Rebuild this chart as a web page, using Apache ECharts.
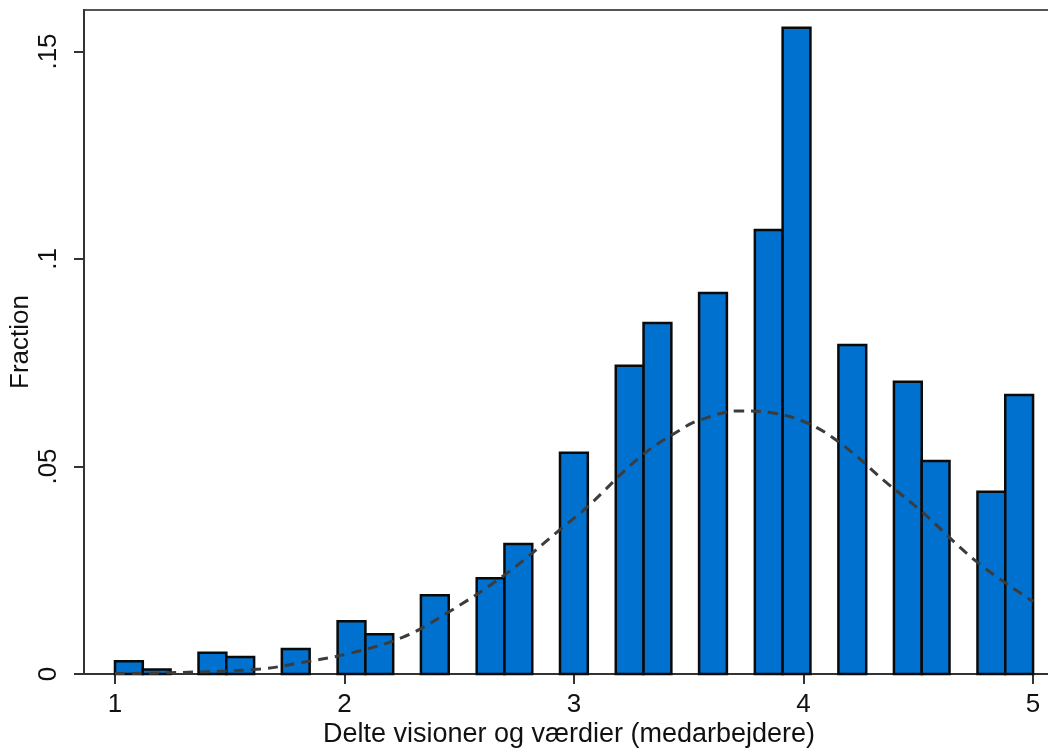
<!DOCTYPE html>
<html>
<head>
<meta charset="utf-8">
<script src="https://cdn.jsdelivr.net/npm/echarts@6/dist/echarts.min.js"></script>
<style>
html,body{margin:0;padding:0;background:#fff;}
#chart{width:1048px;height:749px;}
</style>
</head>
<body>
<div id="chart"></div>
<script>
// Histogram bins (left edge of each non-empty bin) and fraction heights
const binWidth = 0.1212;
const binStarts = [1.000, 1.121, 1.364, 1.485, 1.727, 1.970, 2.091, 2.333, 2.576, 2.697, 2.939,
                   3.182, 3.303, 3.545, 3.788, 3.909, 4.152, 4.394, 4.515, 4.758, 4.879];
const fractions = [0.0031, 0.0011, 0.0051, 0.0041, 0.0060, 0.0127, 0.0096, 0.0190, 0.0231, 0.0313, 0.0533,
                   0.0743, 0.0846, 0.0918, 0.1070, 0.1557, 0.0793, 0.0704, 0.0513, 0.0439, 0.0672];

// Normal density overlay
const curveX = [1.00, 1.24, 1.632, 1.806, 2.024, 2.255, 2.447, 2.708, 2.952, 3.057, 3.288, 3.462, 3.549,
                3.723, 3.867, 4.015, 4.159, 4.364, 4.508, 4.756, 5.00];
const curveY = [0.0001, 0.0003, 0.0012, 0.0027, 0.0050, 0.0089, 0.0147, 0.0243, 0.0354, 0.0402, 0.0523, 0.0588, 0.0612,
                0.0634, 0.0629, 0.0605, 0.0557, 0.0460, 0.0395, 0.0270, 0.0175];

// Axis ticks
const xTickValues = [1, 2, 3, 4, 5];
const xTickLabels = ['1', '2', '3', '4', '5'];
const yTickValues = [0, 0.05, 0.1, 0.15];
const yTickLabels = ['0', '.05', '.1', '.15'];

const xTitle = 'Delte visioner og værdier (medarbejdere)';
const yTitle = 'Fraction';

const barData = binStarts.map((s, i) => [s, s + binWidth, fractions[i]]);
const curveData = curveX.map((x, i) => [x, curveY[i]]);

const FONT = '"Liberation Sans", Arial, sans-serif';
const chart = echarts.init(document.getElementById('chart'), null, {renderer: 'canvas'});
chart.setOption({
  animation: false,
  backgroundColor: '#ffffff',
  grid: {left: 84, top: 10, width: 980, height: 664, outerBoundsMode: 'none', containLabel: false,
         show: true, borderColor: '#555', borderWidth: 2, backgroundColor: 'transparent'},
  xAxis: {
    type: 'value', min: 0.865, max: 5.135,
    name: xTitle, nameLocation: 'middle', nameGap: 47, nameMoveOverlap: false,
    nameTextStyle: {fontFamily: FONT, fontSize: 27, color: '#111', padding: [0, 10, 0, 0]},
    axisLine: {show: true, onZero: false, lineStyle: {color: '#333', width: 2}},
    axisTick: {show: true, length: 10, customValues: xTickValues, lineStyle: {color: '#333', width: 2}},
    axisLabel: {customValues: xTickValues, margin: 18, fontFamily: FONT, fontSize: 26, color: '#111',
      formatter: v => xTickLabels[xTickValues.indexOf(v)] ?? ''},
    splitLine: {show: false}
  },
  yAxis: {
    type: 'value', min: 0, max: 0.16,
    name: yTitle, nameLocation: 'middle', nameGap: 50, nameMoveOverlap: false,
    nameTextStyle: {fontFamily: FONT, fontSize: 26, color: '#111'},
    axisLine: {show: true, lineStyle: {color: '#333', width: 2}},
    axisTick: {show: true, length: 10, customValues: yTickValues, lineStyle: {color: '#333', width: 2}},
    axisLabel: {customValues: yTickValues, rotate: 90, margin: 22, fontFamily: FONT, fontSize: 26, color: '#111',
      formatter: v => { let k = yTickValues.findIndex(t => Math.abs(t - v) < 1e-9); return k >= 0 ? yTickLabels[k] : ''; }},
    splitLine: {show: false}
  },
  series: [
    {
      type: 'custom',
      data: barData,
      encode: {x: [0, 1], y: 2},
      renderItem: function (params, api) {
        const p0 = api.coord([api.value(0), api.value(2)]);
        const p1 = api.coord([api.value(1), 0]);
        return {
          type: 'rect',
          shape: {x: p0[0], y: p0[1], width: p1[0] - p0[0], height: p1[1] - p0[1]},
          style: {fill: '#0071CE', stroke: '#0a0a0a', lineWidth: 2.5}
        };
      },
      z: 2
    },
    {
      type: 'line',
      data: curveData,
      smooth: 0.4,
      symbol: 'none',
      lineStyle: {color: '#3c3c3c', width: 3, type: [10, 7]},
      z: 3
    }
  ]
});
</script>
</body>
</html>
